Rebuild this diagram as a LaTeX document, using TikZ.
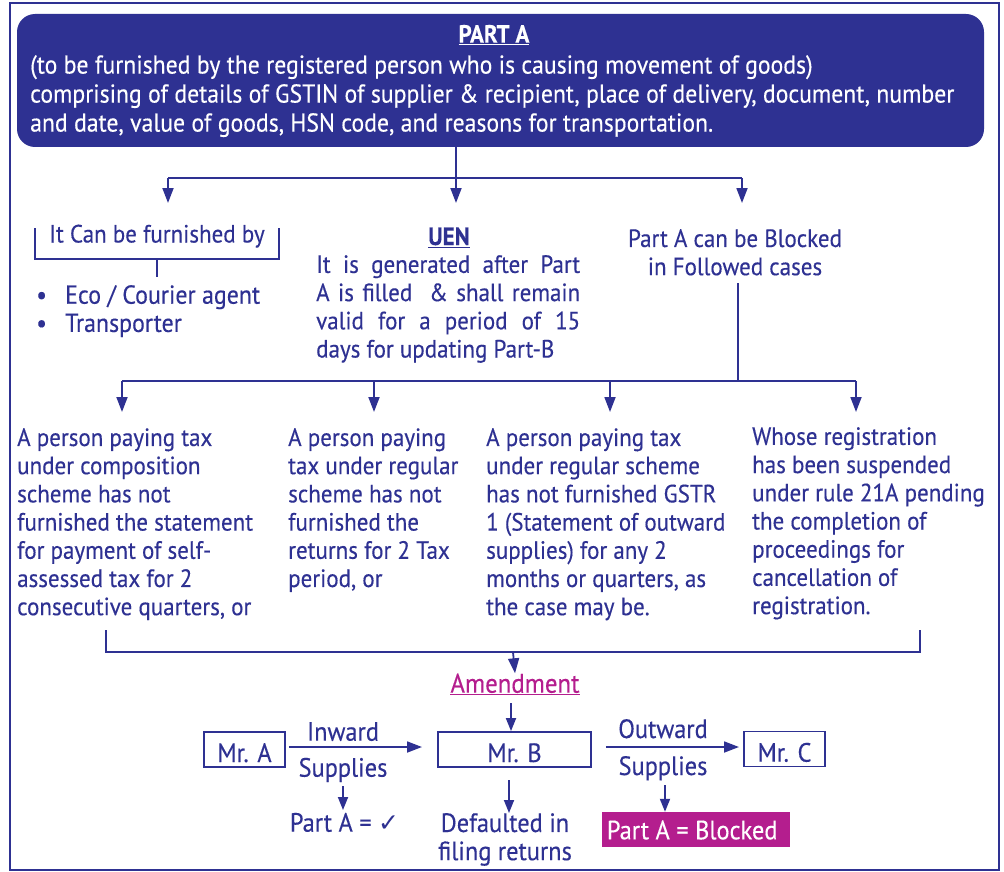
\documentclass[tikz,border=0pt]{standalone}
\usepackage{fontspec}
\setmainfont{PT Sans}[FakeStretch=0.92, FakeBold=0.3]
\newfontfamily\symfont{DejaVu Sans}
\usetikzlibrary{arrows.meta}
\definecolor{navy}{HTML}{2E3192}
\definecolor{plum}{HTML}{B41E8E}
\newcommand{\fs}[1]{\fontsize{#1}{28.2}\selectfont}
\begin{document}
\begin{tikzpicture}[x=1pt,y=-1pt,
  every node/.style={inner sep=0pt, text=navy, font=\fs{25}},
  link/.style={draw=navy, line width=1.8pt},
  arr/.style={link, -{Triangle[width=11pt,length=15pt]}},
  sarr/.style={link, -{Triangle[width=10pt,length=13pt]}},
  person/.style={draw=navy, line width=1.8pt, minimum height=35pt},
  block/.style={anchor=north west, align=left},
  flow/.style={font=\fs{26.5}},
  white text/.style={text=white}]
\useasboundingbox (0,0) rectangle (1004,872);
% outer frame
\draw[navy, line width=2pt] (9.5,3) rectangle (999,870);

% Part A header panel
\node[fill=navy, rounded corners=18pt, minimum width=967pt, minimum height=133pt] (parta) at (500.5,80.5) {};
\node[white text, anchor=base, font=\fs{25}\bfseries] (title) at (494,42.7) {\underline{PART A}};
\node[white text, block, font=\fontsize{25.8}{29}\selectfont] (desc) at (30,55)
  {(to be furnished by the registered person who is causing movement of goods)\\
   comprising of details of GSTIN of supplier \& recipient, place of delivery, document, number\\
   and date, value of goods, HSN code, and reasons for transportation.};

% first split
\coordinate (stem) at (456,147);
\coordinate (bar) at (456,178);
\coordinate (lt) at (168,178);
\coordinate (rt) at (742,178);
\draw[link] (stem) -- (bar);
\draw[link] (lt) -- (rt);
\draw[arr] (lt) -- (168,203);
\draw[arr] (bar) -- (456,203);
\draw[arr] (rt) -- (742,203);

% who can furnish
\node[anchor=base, font=\fs{25}] (furnish) at (157,242.5) {It Can be furnished by};
\draw[link] (35,228) |- (279,259) -- (279,228);
\draw[link] (157,259) -- (157,277);
\node[block, font=\fs{26}] (agents) at (36,285)
  {\makebox[29pt][l]{\textbullet}Eco / Courier agent\\
   \makebox[29pt][l]{\textbullet}Transporter};

% UEN
\node[anchor=base, font=\fs{25}\bfseries] (uen) at (449,245) {\underline{UEN}};
\node[block] (uentext) at (316,255)
  {\makebox[264pt][s]{It is generated after Part}\\
   \makebox[264pt][s]{A is filled \ \& shall remain}\\
   \makebox[264pt][s]{valid for a period of 15}\\
   days for updating Part-B};

% blocking cases
\node[anchor=north, align=center] (blocked) at (735,229)
  {Part A can be Blocked\\ in Followed cases};
\coordinate (bstem) at (738,283);
\coordinate (bbar) at (738,381);
\draw[link] (bstem) -- (bbar);
\draw[link] (122,381) -- (856,381);
\draw[arr] (122,381) -- (122,412);
\draw[arr] (374,381) -- (374,412);
\draw[arr] (610,381) -- (610,412);
\draw[arr] (856,381) -- (856,412);

\node[block] (caseone) at (17,428)
  {A person paying tax\\ under composition\\ scheme has not\\ furnished the statement\\
   for payment of self-\\ assessed tax for 2\\ consecutive quarters, or};
\node[block] (casetwo) at (288,428)
  {A person paying\\ tax under regular\\ scheme has not\\ furnished the\\
   returns for 2 Tax\\ period, or};
\node[block] (casethree) at (486,428)
  {A person paying tax\\ under regular scheme\\ has not furnished GSTR\\ 1 (Statement of outward\\
   supplies) for any 2\\ months or quarters, as\\ the case may be.};
\node[block] (casefour) at (752,427)
  {Whose registration\\ has been suspended\\ under rule 21A pending\\ the completion of\\
   proceedings for\\ cancellation of\\ registration.};

% gathering bracket
\draw[link] (106,630) |- (920,652) -- (920,630);
\coordinate (gather) at (513,652);
\node[anchor=base, text=plum, font=\fs{27}] (amend) at (515,692.7) {\underline{Amendment}};
\draw[arr] (gather) -- (amend.north);

% supply chain
\node[person, minimum width=81pt] (mra) at (244.5,749.5) {};
\node[anchor=base, flow] at (mra.center |- 0,762) {Mr. A};
\node[person, minimum width=153pt] (mrb) at (514.5,749.5) {};
\node[anchor=base, flow] at (mrb.center |- 0,762) {Mr. B};
\node[person, minimum width=81pt] (mrc) at (784.5,749) {};
\node[anchor=base, flow] at (mrc.center |- 0,761.7) {Mr. C};

\draw[sarr] (amend.south -| 511,0) ++(0,8) -- (mrb.north -| 511,0);
\draw[arr] (mra.east) ++(3,-2.5) -- (422,747);
\draw[arr] (mrb.east) ++(14,-2.5) -- (739,747);

\node[anchor=base, flow] (inw) at (343,740.7) {Inward};
\node[anchor=base, flow] (insup) at (343,776.7) {Supplies};
\node[anchor=base, flow] (outw) at (663,738) {Outward};
\node[anchor=base, flow] (outsup) at (663,775) {Supplies};

\node[anchor=base, flow] (tick) at (344.5,831.7) {Part A = {\symfont\fontsize{25}{28}\selectfont ✓}};
\draw[sarr] (343,786) -- (343,810);

\node[anchor=north, align=center, flow] (default) at (505,813) {Defaulted in\\ filing returns};
\draw[sarr] (509,780) -- (default.north -| 509,0);

\node[fill=plum, minimum width=188pt, minimum height=35pt] (blockbox) at (696,829.5) {};
\node[anchor=base west, white text, flow] (blocktext) at (606.7,839.3) {Part A = Blocked};
\draw[sarr] (665,785) -- (blockbox.north -| 665,0);
\end{tikzpicture}
\end{document}
